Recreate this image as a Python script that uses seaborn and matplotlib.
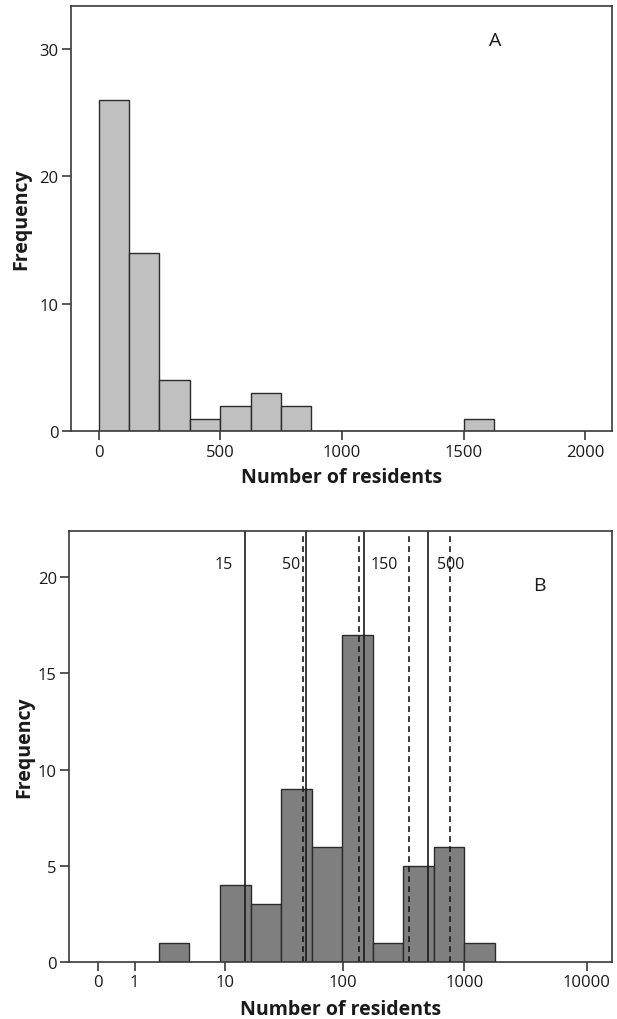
import numpy as np
import matplotlib
matplotlib.use("Agg")
import matplotlib.pyplot as plt
import seaborn as sns

# ---- Data ----
# Panel A: linear bins of 125 residents
edges_a = [0, 125, 250, 375, 500, 625, 750, 875, 1000, 1125, 1250, 1375, 1500, 1625]
counts_a = [26, 14, 4, 1, 2, 3, 2, 0, 0, 0, 0, 0, 1]
xticks_a = [0, 500, 1000, 1500, 2000]
yticks_a = [0, 10, 20, 30]

# Panel B: bins on log10(residents + 1), width 0.25
log_edges_b = [0.5, 0.75, 1.0, 1.25, 1.5, 1.75, 2.0, 2.25, 2.5, 2.75, 3.0, 3.25]
counts_b = [1, 0, 4, 3, 9, 6, 17, 1, 5, 6, 1]
xtick_vals_b = [0, 1, 10, 100, 1000, 10000]
yticks_b = [0, 5, 10, 15, 20]
solid_lines = [15, 50, 150, 500]
solid_labels = ["15", "50", "150", "500"]
label_x = [9.7, 37.3, 220.0, 773.0]
dashed_lines = [47, 136, 350, 760]

sns.set_theme(style="white")
plt.rcParams['font.family'] = ['Open Sans', 'DejaVu Sans']

fig = plt.figure(figsize=(6.17, 10.2), dpi=100)
edge_col = "#2b2b2b"
spine_col = "#3a3a3a"
text_col = "#1a1a1a"

def fwd(x):
    return np.log10(np.asarray(x, dtype=float) + 1.0)

# ---- Panel A ----
axA = fig.add_axes([0.1151, 0.5762, 0.8768, 0.4172])
centers_a = [(edges_a[i] + edges_a[i + 1]) / 2 for i in range(len(counts_a))]
sns.histplot(x=centers_a, weights=counts_a, bins=edges_a, ax=axA,
             color="#c0c0c0", alpha=1, edgecolor=edge_col, linewidth=1.0)
axA.set_xlim(-113, 2110)
axA.set_ylim(0, 33.4)
axA.set_xticks(xticks_a)
axA.set_yticks(yticks_a)
axA.text(1631, 30.7, "A", ha="center", va="center", fontsize=14, color=text_col)

# ---- Panel B (x axis in log10(residents + 1) units) ----
axB = fig.add_axes([0.1123, 0.0559, 0.8796, 0.4225])
centers_b = [(log_edges_b[i] + log_edges_b[i + 1]) / 2 for i in range(len(counts_b))]
sns.histplot(x=centers_b, weights=counts_b, bins=log_edges_b, ax=axB,
             color="#7f7f7f", alpha=1, edgecolor=edge_col, linewidth=1.0)
axB.set_xlim(-0.233, 4.208)
axB.set_ylim(0, 22.4)
axB.set_xticks(fwd(xtick_vals_b))
axB.set_xticklabels([str(v) for v in xtick_vals_b])
axB.set_yticks(yticks_b)
for v in solid_lines:
    axB.axvline(fwd(v), color=text_col, lw=1.2, ls="-")
for v in dashed_lines:
    axB.axvline(fwd(v), color=text_col, lw=1.2, ls=(0, (3.5, 2.5)), ymax=0.99)
for lx, lab in zip(label_x, solid_labels):
    axB.text(fwd(lx), 20.7, lab, ha="center", va="center", fontsize=11.5, color=text_col)
axB.text(3.615, 19.6, "B", ha="center", va="center", fontsize=14, color=text_col)

for ax, xl_y, yl_x in ((axA, -0.107, -0.092), (axB, -0.109, -0.083)):
    for s in ax.spines.values():
        s.set_color(spine_col)
        s.set_linewidth(1.2)
    ax.tick_params(axis="both", which="major", direction="out", length=6.5,
                   width=1.2, color=spine_col, labelsize=12, pad=2.5,
                   bottom=True, left=True, labelcolor=text_col)
    ax.set_xlabel("Number of residents", fontsize=14, fontweight="bold",
                  color=text_col, va="center")
    ax.set_ylabel("Frequency", fontsize=14, fontweight="bold",
                  color=text_col, va="center")
    ax.xaxis.set_label_coords(0.5, xl_y)
    ax.yaxis.set_label_coords(yl_x, 0.5)
    ax.grid(False)

fig.savefig("out.png", dpi=100)
